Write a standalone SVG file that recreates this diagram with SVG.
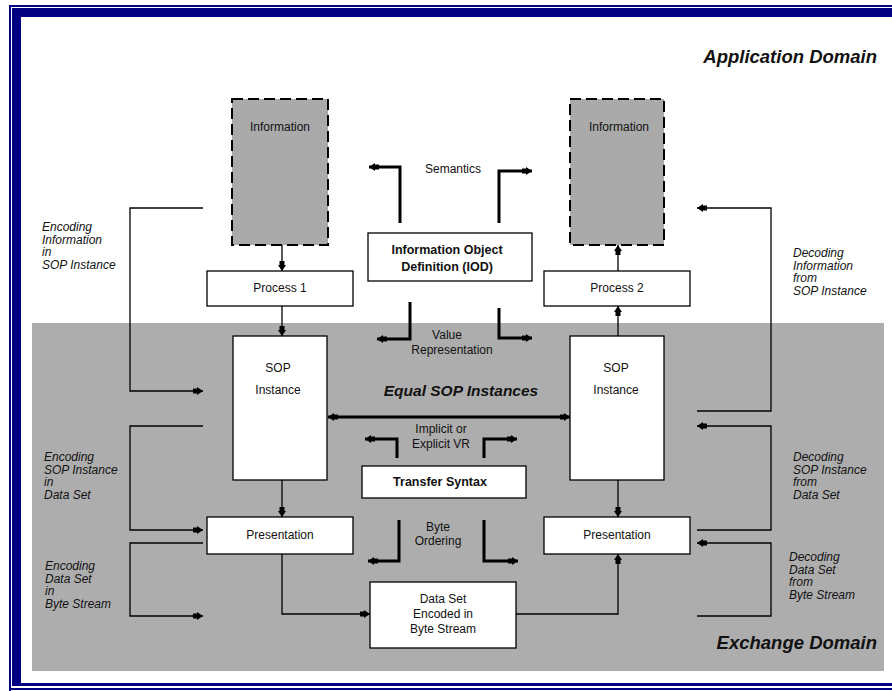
<svg xmlns="http://www.w3.org/2000/svg" width="892" height="691" viewBox="0 0 892 691">
  <style>
    text { font-family: "Liberation Sans", Arial, sans-serif; fill: #111; }
    .lbl { font-size: 12px; text-anchor: middle; }
    .bold { font-size: 12.5px; font-weight: bold; text-anchor: middle; }
    .note { font-size: 12px; font-style: italic; }
    .domain { font-size: 18.5px; font-weight: bold; font-style: italic; text-anchor: end; }
    .box { fill: #ffffff; stroke: #000; stroke-width: 1.3; }
    .info { fill: #aaaaaa; stroke: #000; stroke-width: 2; stroke-dasharray: 11 5; }
    .thin { fill: none; stroke: #000; stroke-width: 1.3; marker-end: url(#arrow); }
    .thick { fill: none; stroke: #000; stroke-width: 3; marker-end: url(#arrow); }
    .navy { fill: #000080; }
  </style>
  <defs>
    <marker id="arrow" markerUnits="userSpaceOnUse" viewBox="0 -5 10 10" markerWidth="10" markerHeight="10" refX="10" refY="0" orient="auto">
      <path d="M0,-2.5 H4 V-4 L10,0 L4,4 V2.5 H0 Z" fill="#000"/>
    </marker>
    <marker id="arrowStart" markerUnits="userSpaceOnUse" viewBox="0 -5 10 10" markerWidth="10" markerHeight="10" refX="0" refY="0" orient="auto">
      <path d="M10,-2.5 H6 V-4 L0,0 L6,4 V2.5 H10 Z" fill="#000"/>
    </marker>
  </defs>

  <!-- page background and frame -->
  <rect x="0" y="0" width="892" height="691" fill="#ffffff"/>
  <g id="frame">
    <rect class="navy" x="9" y="5" width="883" height="2"/>
    <rect class="navy" x="9" y="5" width="2" height="686"/>
    <rect class="navy" x="9" y="688" width="883" height="2"/>
    <rect class="navy" x="12" y="8" width="880" height="9"/>
    <rect class="navy" x="12" y="8" width="9" height="678"/>
    <rect class="navy" x="12" y="683" width="880" height="3"/>
  </g>

  <!-- exchange domain band -->
  <rect id="exchange-domain" x="32" y="323" width="852" height="348" fill="#adadad"/>

  <text class="domain" x="877" y="63">Application Domain</text>
  <text class="domain" x="877" y="649">Exchange Domain</text>

  <!-- connectors -->
  <g id="connectors">
    <path class="thin" d="M282,245 V271"/>
    <path class="thin" d="M282,306 V336"/>
    <path class="thin" d="M282,480 V517"/>
    <path class="thin" d="M282,554 V614 H370"/>
    <path class="thin" d="M618,271 V245"/>
    <path class="thin" d="M618,336 V306"/>
    <path class="thin" d="M618,480 V517"/>
    <path class="thin" d="M516,614 H618 V554"/>

    <path class="thin" d="M203,208 H130 V391 H203"/>
    <path class="thin" d="M203,426 H130 V530 H203"/>
    <path class="thin" d="M203,543 H130 V616 H203"/>
    <path class="thin" d="M697,411 H771 V208 H697"/>
    <path class="thin" d="M697,530 H771 V426 H697"/>
    <path class="thin" d="M697,616 H771 V543 H697"/>

    <path class="thick" d="M400,223 V167 H369"/>
    <path class="thick" d="M499,223 V171 H532"/>
    <path class="thick" d="M410,302 V339 H377"/>
    <path class="thick" d="M499,308 V338 H532"/>
    <path class="thick" d="M328,417 H570" marker-start="url(#arrowStart)"/>
    <path class="thick" d="M397,458 V439 H365"/>
    <path class="thick" d="M484,458 V439 H517"/>
    <path class="thick" d="M399,520 V561 H368"/>
    <path class="thick" d="M484,520 V561 H518"/>
  </g>

  <!-- nodes -->
  <g id="information-1">
    <rect class="info" x="232" y="99" width="96" height="146"/>
    <text class="lbl" x="280" y="131">Information</text>
  </g>
  <g id="information-2">
    <rect class="info" x="570" y="99" width="94" height="146"/>
    <text class="lbl" x="619" y="131">Information</text>
  </g>
  <g id="process-1">
    <rect class="box" x="207" y="271" width="146" height="35"/>
    <text class="lbl" x="280" y="292">Process 1</text>
  </g>
  <g id="process-2">
    <rect class="box" x="544" y="271" width="146" height="35"/>
    <text class="lbl" x="617" y="292">Process 2</text>
  </g>
  <g id="iod">
    <rect class="box" x="368" y="233" width="164" height="48"/>
    <text class="bold" x="447" y="254">Information Object</text>
    <text class="bold" x="447" y="271">Definition (IOD)</text>
  </g>
  <g id="sop-instance-1">
    <rect class="box" x="233" y="336" width="94" height="144"/>
    <text class="lbl" x="278" y="372">SOP</text>
    <text class="lbl" x="278" y="394">Instance</text>
  </g>
  <g id="sop-instance-2">
    <rect class="box" x="570" y="336" width="94" height="144"/>
    <text class="lbl" x="616" y="372">SOP</text>
    <text class="lbl" x="616" y="394">Instance</text>
  </g>
  <g id="transfer-syntax">
    <rect class="box" x="362" y="466" width="164" height="32"/>
    <text class="bold" x="440" y="486">Transfer Syntax</text>
  </g>
  <g id="presentation-1">
    <rect class="box" x="207" y="517" width="146" height="37"/>
    <text class="lbl" x="280" y="539">Presentation</text>
  </g>
  <g id="presentation-2">
    <rect class="box" x="544" y="517" width="146" height="37"/>
    <text class="lbl" x="617" y="539">Presentation</text>
  </g>
  <g id="data-set">
    <rect class="box" x="370" y="582" width="146" height="66"/>
    <text class="lbl" x="443" y="603">Data Set</text>
    <text class="lbl" x="443" y="618">Encoded in</text>
    <text class="lbl" x="443" y="633">Byte Stream</text>
  </g>

  <!-- connector labels -->
  <g id="labels">
    <text class="lbl" x="453" y="173">Semantics</text>
    <text class="lbl" x="447" y="339">Value</text>
    <text class="lbl" x="452" y="354">Representation</text>
    <text x="461" y="396" style="font-size:15.5px;font-weight:bold;font-style:italic;text-anchor:middle">Equal SOP Instances</text>
    <text class="lbl" x="441" y="433">Implicit or</text>
    <text class="lbl" x="441" y="448">Explicit VR</text>
    <text class="lbl" x="438" y="531">Byte</text>
    <text class="lbl" x="438" y="545">Ordering</text>

    <text class="note" x="42" y="231"><tspan x="42">Encoding</tspan><tspan x="42" dy="12.5">Information</tspan><tspan x="42" dy="12.5">in</tspan><tspan x="42" dy="12.5">SOP Instance</tspan></text>
    <text class="note" x="44" y="461"><tspan x="44">Encoding</tspan><tspan x="44" dy="12.5">SOP Instance</tspan><tspan x="44" dy="12.5">in</tspan><tspan x="44" dy="12.5">Data Set</tspan></text>
    <text class="note" x="45" y="570"><tspan x="45">Encoding</tspan><tspan x="45" dy="12.5">Data Set</tspan><tspan x="45" dy="12.5">in</tspan><tspan x="45" dy="12.5">Byte Stream</tspan></text>
    <text class="note" x="793" y="257"><tspan x="793">Decoding</tspan><tspan x="793" dy="12.5">Information</tspan><tspan x="793" dy="12.5">from</tspan><tspan x="793" dy="12.5">SOP Instance</tspan></text>
    <text class="note" x="793" y="461"><tspan x="793">Decoding</tspan><tspan x="793" dy="12.5">SOP Instance</tspan><tspan x="793" dy="12.5">from</tspan><tspan x="793" dy="12.5">Data Set</tspan></text>
    <text class="note" x="789" y="561"><tspan x="789">Decoding</tspan><tspan x="789" dy="12.5">Data Set</tspan><tspan x="789" dy="12.5">from</tspan><tspan x="789" dy="12.5">Byte Stream</tspan></text>
  </g>
</svg>
